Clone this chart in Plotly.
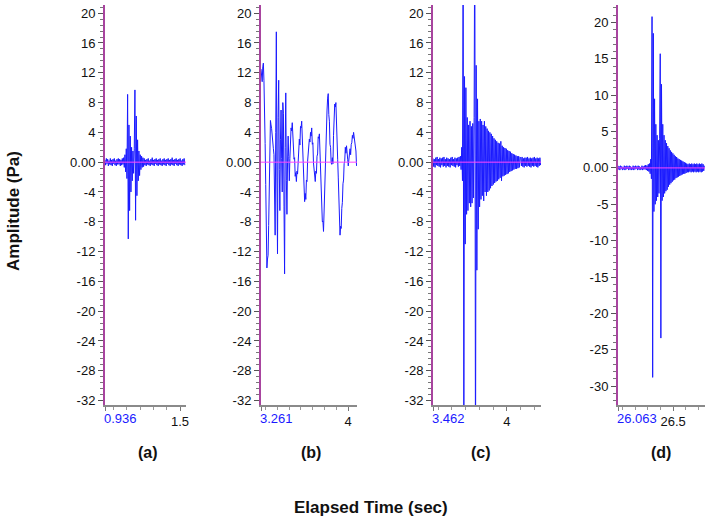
import numpy as np
import plotly.graph_objects as go

# --- recorded pressure waveforms (Pa), sampled every 5 ms from each start time ---
dt = 0.005

start_a = 0.936
amp_a = [0.3, -0.4, 0.5, -0.2, 0.4, -0.5, 0.2, -0.3, 0.5, -0.4, 0.3, -0.5, 0.4, -0.2, 0.5,
         -0.4, 0.2, -0.5, 0.4, -0.3, 0.5, -0.3, 0.4, -0.5, 0.3, -0.4, 0.5, -0.3, 0.6, -0.7,
         1.0, -1.3, 1.8, -2.2,
         9.1, -10.3, 5.0, -6.5, 3.5, -4.0, 2.0, -2.5, 1.5, -1.5, 1.8,
         9.7, -7.8, 6.2, -4.5, 3.0, -2.5, 1.5, -1.8, 1.0, -1.0, 0.8, -0.7, 0.6, -0.6,
         0.5, -0.4, 0.3, -0.5, 0.4, -0.3, 0.5, -0.4, 0.2, -0.5, 0.4, -0.3, 0.6, -0.4, 0.3,
         -0.5, 0.4, -0.2, 0.5, -0.4, 0.3, -0.5, 0.4, -0.3, 0.5, -0.4, 0.2, -0.5, 0.4, -0.3,
         0.5, -0.4, 0.3, -0.5, 0.4, -0.2, 0.5, -0.4, 0.3, -0.5, 0.4, -0.3, 0.6, -0.4, 0.3,
         -0.5, 0.4, -0.2, 0.5, -0.4, 0.3, -0.5, 0.4, -0.3, 0.5, -0.4, 0.2, -0.5, 0.4, -0.3,
         0.5, -0.4]

start_b = 3.261
amp_b = [12.5, 11.2, 10.8, 12.8, 13.3, 11.0, 8.0, 2.5, -3.0, -9.0, -14.2, -13.0, -12.5,
         -8.5, -5.0, 0.5, 5.6, 5.0, 4.5, 3.2, 2.5, 1.8, 1.0, -4.0, -9.8, 4.0, 17.5, -2.0,
         -12.3, 6.0, 11.0, -1.0, -6.5, 3.0, 7.0, 0.5, -4.0, 8.0, 6.5, -6.0, -15.0, 2.0, 9.3,
         -2.5, -7.0,
         0.0, 3.5, 0.8, -2.5, 0.5, 2.5, 4.6, 4.2, 5.3, 3.0, 2.6, 0.4, 0.6, -1.9, -1.4, -2.6,
         -1.2, -1.6, 1.0, 0.8, 3.1, 2.3, 4.8, 4.6, 5.5, 3.0, 1.6, -1.9, -3.2, -5.3, -4.2,
         -5.0, -2.4, -2.6, 0.1, 1.0, 1.2, 3.1, 2.7, 4.0, 3.5, 4.6, 2.4, 2.6, -0.1, -1.5,
         -1.3, -2.6, -1.2, -1.5, 0.8, 1.1, 3.4, 3.2, 3.8, 1.5, 1.0, -3.5, -5.4, -8.0, -7.9,
         -9.3, -6.2, -4.5, 0.2, 2.4, 6.0, 7.0, 8.6, 9.2, 6.4, 5.5, 2.4, 2.0, -0.1, -0.3,
         0.6, -0.2, 3.6, 5.4, 7.8, 7.4, 8.0, 6.0, 4.6, 0.4, -2.0, -5.9, -7.6, -9.8, -8.6,
         -8.9, -6.2, -5.4, -2.9, -2.4, -0.2, 0.1, 2.0, 1.2, 2.2, 0.5, 0.4, -0.5, 1.0, 1.1,
         1.8, 1.0, 2.4, 2.6, 3.6, 3.2, 4.0, 3.2, 3.3, 1.6, 1.5, -0.5]

start_c = 3.462
amp_c = [0.5, -0.6, 0.4, -0.7, 0.6, -0.4, 0.7, -0.5, 0.4, -0.6, 0.6, -0.7, 0.5, -0.4, 0.6,
         -0.6, 0.7, -0.5, 0.4, -0.7, 0.6, -0.5, 0.5, -0.6, 0.4, -0.7, 0.6, -0.4, 0.7, -0.5,
         0.4, -0.6, 0.6, -0.7, 0.5, -0.4, 0.6, -0.6, 0.7, -0.5, 0.8, -1.0,
         2.0, -2.5, 30.0, -40.0,
         11.5, -11.0, 10.0, -7.0, 6.0, -6.5, 5.0, -5.5, 5.5, -6.0, 4.8, -5.5, 5.2, -4.8, 6.0,
         35.0, -45.0,
         13.0, -14.5, 8.5, -9.0, 5.5, -6.0, 5.8, -5.0, 5.5, -4.5, 5.0, -5.2, 5.5, -4.0, 4.8,
         -4.5, 4.5, -4.0, 4.2, -3.8, 4.0, -3.5, 3.8, -3.2, 3.5, -3.0, 3.2, -2.8, 3.0, -2.6,
         2.8, -2.5, 2.6, -2.3, 2.5, -2.1, 2.8, -2.5, 2.2, -1.9, 2.0, -1.8, 1.9, -1.7, 1.8,
         -1.6, 1.6, -1.5, 1.5, -1.3, 1.4, -1.2, 1.2, -1.1, 1.1, -1.0, 1.0, -0.9, 0.9, -0.9,
         0.8, -0.8, 0.8, -0.7, 0.7,
         0.6, -0.5, 0.7, -0.6, 0.5, -0.7, 0.6, -0.5, 0.6, -0.6, 0.7, -0.5, 0.5, -0.6, 0.6,
         -0.7, 0.5, -0.5, 0.6, -0.6, 0.7, -0.5, 0.5, -0.6, 0.6, -0.7, 0.5, -0.5, 0.6, -0.4]

start_d = 26.063
amp_d = [0.3, -0.2, 0.2, -0.3, 0.3, -0.1, 0.2, -0.3, 0.1, -0.2, 0.3, -0.3, 0.2, -0.2, 0.3,
         -0.1, 0.2, -0.3, 0.3, -0.2, 0.2, -0.3, 0.1, -0.2, 0.3, -0.3, 0.2, -0.2, 0.3, -0.1,
         0.2, -0.3, 0.3, -0.2, 0.2, -0.3, 0.1, -0.2, 0.3, -0.3, 0.2, -0.2, 0.3, -0.2, 0.4,
         -0.3, 0.3, -0.4, 0.5, -0.5, 0.6, -0.8,
         1.2, -1.5, 20.8, -28.8,
         18.5, -6.0, 9.5, -5.0, 6.0, -4.5, 4.5, -4.0, 3.8, -3.5, 4.0,
         15.7, -23.4,
         11.5, -4.5, 6.0, -4.0, 4.5, -3.5, 3.8, -3.2, 3.4, -3.0, 3.0, -2.6, 2.7, -2.3, 2.4,
         -2.1, 2.2, -1.9, 2.0, -1.7, 1.8, -1.6, 1.6, -1.4, 1.5, -1.3, 1.3, -1.2, 1.2, -1.1,
         1.1, -1.0, 1.0, -0.9, 0.9, -0.8, 0.8, -0.8, 0.7, -0.7,
         0.6, -0.6, 0.5, -0.6, 0.6, -0.5, 0.5, -0.6, 0.6, -0.5, 0.5, -0.6, 0.6, -0.5, 0.5,
         -0.6, 0.6, -0.5, 0.5, -0.6, 0.6, -0.5, 0.5, -0.6, 0.6, -0.5, 0.5, -0.4, 0.3]

panel_labels = ["(a)", "(b)", "(c)", "(d)"]
x_major = [1.5, 4, 4, 26.5]
x_ends = [1.545, 4.075, 4.25, 26.753]

W, H = 709, 521
FONT = "Liberation Sans, Arial, sans-serif"
BLUE = "#1a1aff"

# pixel layout of the four panels
px_left = [105, 261, 433, 618]
px_right = [186, 357, 541, 705]
px_top, px_bot = 5, 405
label_x = [148, 311, 481, 661]

starts = [start_a, start_b, start_c, start_d]
amps = [amp_a, amp_b, amp_c, amp_d]

fig = go.Figure()
annotations = []
shapes = []

for i in range(4):
    n = i + 1
    xa = "x" if n == 1 else f"x{n}"
    ya = "y" if n == 1 else f"y{n}"
    t = starts[i] + dt * np.arange(len(amps[i]))
    fig.add_trace(go.Scatter(x=t, y=amps[i], mode="lines",
                             line=dict(color=BLUE, width=1),
                             xaxis=xa, yaxis=ya, showlegend=False, hoverinfo="skip"))

    if i < 3:
        yr = [-32.6, 21.1]
        yv = list(range(20, -33, -4))
        ymin_dt = 0.8
    else:
        yr = [-32.6, 22.4]
        yv = list(range(20, -31, -5))
        ymin_dt = 1
    yt = ["0.00" if v == 0 else str(v) for v in yv]

    dom_x = [px_left[i] / W, px_right[i] / W]
    dom_y = [1 - px_bot / H, 1 - px_top / H]
    xkey = "xaxis" if n == 1 else f"xaxis{n}"
    ykey = "yaxis" if n == 1 else f"yaxis{n}"
    fig.update_layout({
        xkey: dict(domain=dom_x, anchor=ya, range=[starts[i], x_ends[i]], automargin=False,
                   showgrid=False, zeroline=False, showline=True,
                   linecolor="#8a8a8a", linewidth=1.5,
                   tickmode="array", tickvals=[starts[i], x_major[i]],
                   ticktext=["", str(x_major[i])],
                   ticks="outside", ticklen=4, tickcolor="#777",
                   tickfont=dict(family=FONT, size=13, color="#111"),
                   minor=dict(tickmode="linear", tick0=0, dtick=0.1,
                              ticks="outside", ticklen=3, tickcolor="#999")),
        ykey: dict(domain=dom_y, anchor=xa, range=yr, automargin=False,
                   showgrid=False, zeroline=False, showline=True,
                   linecolor="#a8449f", linewidth=2,
                   tickmode="array", tickvals=yv, ticktext=yt,
                   ticks="outside", ticklen=5, tickcolor="#555",
                   tickfont=dict(family=FONT, size=13, color="#111"),
                   minor=dict(tickmode="linear", tick0=0, dtick=ymin_dt,
                              ticks="outside", ticklen=3, tickcolor="#777")),
    })

    # magenta zero reference
    shapes.append(dict(type="line", xref=f"{xa} domain", yref=ya, x0=0, x1=1, y0=0, y1=0,
                       line=dict(color="#ff44ff", width=1), layer="above"))

    # blue start-time label
    annotations.append(dict(x=starts[i], xref=xa, y=1 - 409 / H, yref="paper",
                            text=f"{starts[i]:.3f}", showarrow=False,
                            xanchor="left", yanchor="top", xshift=-3,
                            font=dict(family=FONT, size=13, color=BLUE)))
    annotations.append(dict(x=label_x[i] / W, xref="paper", y=1 - 452 / H, yref="paper",
                            text=f"<b>{panel_labels[i]}</b>", showarrow=False,
                            xanchor="center", yanchor="middle",
                            font=dict(family=FONT, size=16, color="#111")))

annotations.append(dict(x=13 / W, xref="paper", y=1 - 211 / H, yref="paper",
                        text="<b>Amplitude (Pa)</b>", textangle=-90, showarrow=False,
                        xanchor="center", yanchor="middle",
                        font=dict(family=FONT, size=17, color="#111")))
annotations.append(dict(x=371 / W, xref="paper", y=1 - 507 / H, yref="paper",
                        text="<b>Elapsed Time (sec)</b>", showarrow=False,
                        xanchor="center", yanchor="middle",
                        font=dict(family=FONT, size=17, color="#111")))

fig.update_layout(width=W, height=H, autosize=False,
                  margin=dict(l=0, r=0, t=0, b=0),
                  paper_bgcolor="white", plot_bgcolor="white",
                  annotations=annotations, shapes=shapes)

# drop the page's default body margin so the figure fills the window exactly
fig.write_html("out.html", config={"displayModeBar": False},
               post_script="document.body.style.margin='0';")
